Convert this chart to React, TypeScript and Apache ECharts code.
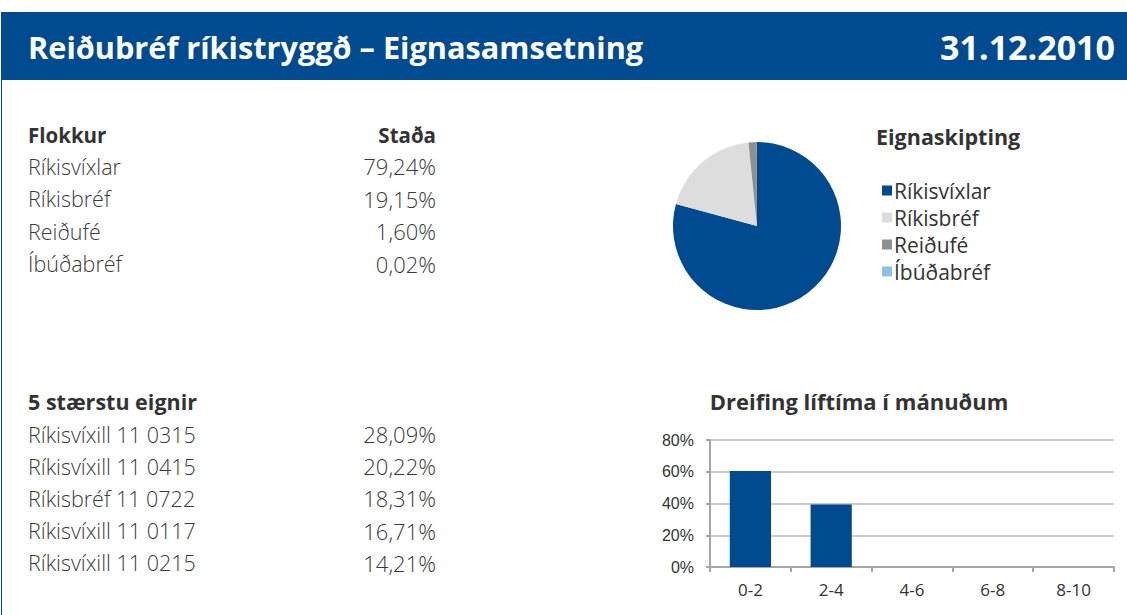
import React, { useEffect, useRef } from "react";
import * as echarts from "echarts";

const headerTitle = "Reiðubréf ríkistryggð – Eignasamsetning";
const headerDate = "31.12.2010";

const classHeader = ["Flokkur", "Staða"];
const classNames = ["Ríkisvíxlar", "Ríkisbréf", "Reiðufé", "Íbúðabréf"];
const classValues = [79.24, 19.15, 1.6, 0.02];
const classColors = ["#004b8f", "#dcdddc", "#8e8f91", "#8cc3e0"];

const topTitle = "5 stærstu eignir";
const topNames = ["Ríkisvíxill 11 0315", "Ríkisvíxill 11 0415", "Ríkisbréf 11 0722", "Ríkisvíxill 11 0117", "Ríkisvíxill 11 0215"];
const topValues = [28.09, 20.22, 18.31, 16.71, 14.21];

const pieTitle = "Eignaskipting";
const barTitle = "Dreifing líftíma í mánuðum";
const barCategories = ["0-2", "2-4", "4-6", "6-8", "8-10"];
const barValues = [60.5, 39.3, 0, 0, 0];
const yTicks = [0, 20, 40, 60, 80];

const FONT = "'Open Sans', 'Noto Sans', sans-serif";
const TXT = "#333333";
const BLUE = "#004b8f";

const fmt = (v: number) => v.toFixed(2).replace(".", ",") + "%";

export default function App() {
  const ref = useRef<HTMLDivElement>(null);
  useEffect(() => {
    document.body.style.margin = "0";
    const chart = echarts.init(ref.current!, null, { renderer: "svg" });
    const graphics: any[] = [];
    graphics.push({ type: "rect", shape: { x: 1, y: 12, width: 1126, height: 68 }, style: { fill: BLUE } });
    graphics.push({ type: "line", shape: { x1: 1.5, y1: 80, x2: 1.5, y2: 615 }, style: { stroke: BLUE, lineWidth: 1 } });
    graphics.push({ type: "text", x: 28, y: 47, style: { text: headerTitle, fill: "#fff", font: `bold 30.7px ${FONT}`, textVerticalAlign: "middle" } });
    graphics.push({ type: "text", x: 1115, y: 47, style: { text: headerDate, fill: "#fff", font: `bold 34px ${FONT}`, textAlign: "right", textVerticalAlign: "middle" } });

    const addText = (t: string, x: number, y: number, weight: string, align = "left", size = 21.5, color = TXT) =>
      graphics.push({ type: "text", x, y, style: { text: t, fill: color, font: `${weight} ${size}px ${FONT}`, textAlign: align, textVerticalAlign: "middle" } });

    addText(classHeader[0], 28, 135, "bold", "left", 20.5);
    addText(classHeader[1], 436, 135, "bold", "right", 20.5);
    classNames.forEach((n, i) => {
      addText(n, 28, 166 + i * 32.5, "300", "left", 21.5, "#3a3a3a");
      addText(fmt(classValues[i]), 436, 166 + i * 32.5, "300", "right", 22, "#3a3a3a");
    });
    addText(topTitle, 28, 401, "bold", "left", 21.5);
    topNames.forEach((n, i) => {
      addText(n, 28, 434 + i * 32.2, "300", "left", 21.5, "#3a3a3a");
      addText(fmt(topValues[i]), 436, 434 + i * 32.2, "300", "right", 22, "#3a3a3a");
    });
    addText(pieTitle, 876, 136, "bold", "left", 21.5);
    addText(barTitle, 859, 401, "bold", "center", 22);

    chart.setOption({
      animation: false,
      color: classColors,
      graphic: graphics,
      legend: {
        orient: "vertical",
        left: 877,
        top: 175,
        itemWidth: 10,
        itemHeight: 10,
        itemGap: 6,
        icon: "rect",
        data: classNames,
        textStyle: { fontSize: 21, color: TXT, fontFamily: FONT, padding: [0, 0, 0, -3] },
      },
      grid: { left: 710, right: 13, top: 440, bottom: 48 },
      xAxis: {
        type: "category",
        data: barCategories,
        axisLine: { lineStyle: { color: "#a6a6a6", width: 2 } },
        axisTick: { show: true, length: 5, lineStyle: { color: "#a6a6a6", width: 2 } },
        axisLabel: { fontSize: 17, color: TXT, fontFamily: FONT, margin: 14 },
      },
      yAxis: {
        type: "value",
        min: 0,
        max: 80,
        interval: 20,
        axisLine: { show: true, lineStyle: { color: "#a6a6a6", width: 2 } },
        axisTick: { show: true, length: 4, lineStyle: { color: "#a6a6a6", width: 2 } },
        splitLine: { lineStyle: { color: "#cbcbcb", width: 2 } },
        axisLabel: { fontSize: 16, color: TXT, fontFamily: "'Liberation Sans', sans-serif", margin: 16, formatter: (v: number) => (yTicks.includes(v) ? v + "%" : "") },
      },
      series: [
        {
          type: "pie",
          center: [757, 226],
          radius: 84,
          startAngle: 90,
          clockwise: true,
          label: { show: false },
          labelLine: { show: false },
          data: classNames.map((n, i) => ({ name: n, value: classValues[i] })),
        },
        {
          type: "bar",
          data: barValues,
          barWidth: "51%",
          itemStyle: { color: BLUE },
        },
      ],
    });
    return () => chart.dispose();
  }, []);
  return <div ref={ref} style={{ width: 1127, height: 615, background: "#fff" }} />;
}
